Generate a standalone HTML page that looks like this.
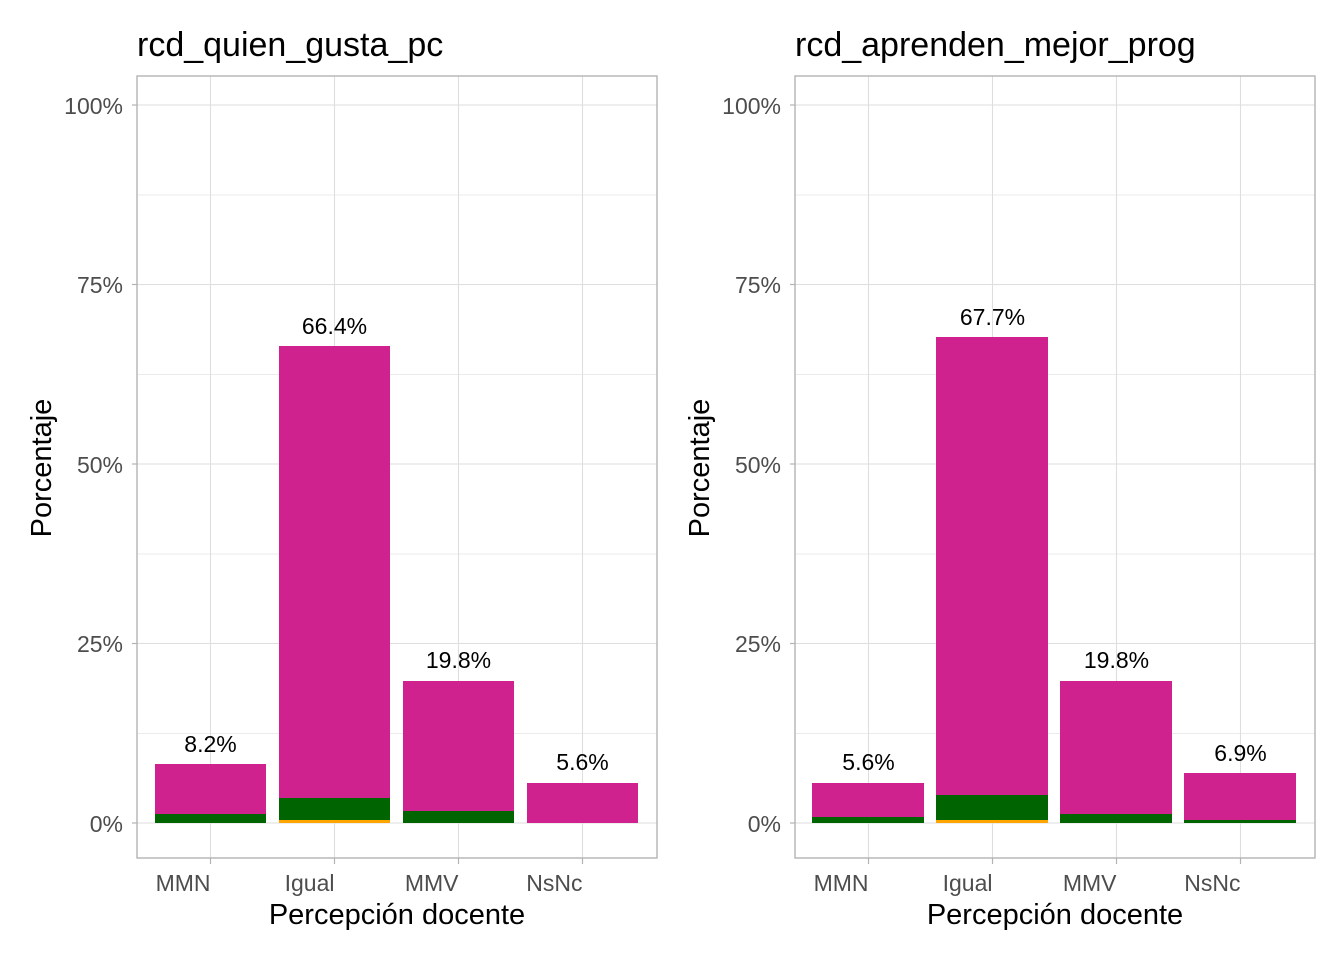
<!DOCTYPE html>
<html><head><meta charset="utf-8"><style>html,body{margin:0;padding:0;background:#fff}svg{display:block}</style></head>
<body>
<svg width="1344" height="960" xmlns="http://www.w3.org/2000/svg" font-family="Liberation Sans, Arial, sans-serif">
<rect width="1344" height="960" fill="#fff"/>
<defs>
<g id="grid">
  <g stroke="#ebebeb" stroke-width="1">
    <line x1="0" x2="520" y1="733.5" y2="733.5"/><line x1="0" x2="520" y1="554" y2="554"/>
    <line x1="0" x2="520" y1="374.5" y2="374.5"/><line x1="0" x2="520" y1="195" y2="195"/>
  </g>
  <g stroke="#dedede" stroke-width="1.1">
    <line x1="0" x2="520" y1="823" y2="823"/><line x1="0" x2="520" y1="643.5" y2="643.5"/>
    <line x1="0" x2="520" y1="464" y2="464"/><line x1="0" x2="520" y1="284.5" y2="284.5"/>
    <line x1="0" x2="520" y1="105" y2="105"/>
    <line x1="73.5" x2="73.5" y1="76" y2="858"/><line x1="197.5" x2="197.5" y1="76" y2="858"/>
    <line x1="321.5" x2="321.5" y1="76" y2="858"/><line x1="445.5" x2="445.5" y1="76" y2="858"/>
  </g>
</g>
<g id="axes">
  <rect x="0" y="76" width="520" height="782" fill="none" stroke="#b3b3b3" stroke-width="1.4"/>
  <g stroke="#b3b3b3" stroke-width="1.2">
    <line x1="-5" x2="0" y1="823" y2="823"/><line x1="-5" x2="0" y1="643.5" y2="643.5"/>
    <line x1="-5" x2="0" y1="464" y2="464"/><line x1="-5" x2="0" y1="284.5" y2="284.5"/>
    <line x1="-5" x2="0" y1="105" y2="105"/>
    <line x1="73.5" x2="73.5" y1="858" y2="864"/><line x1="197.5" x2="197.5" y1="858" y2="864"/>
    <line x1="321.5" x2="321.5" y1="858" y2="864"/><line x1="445.5" x2="445.5" y1="858" y2="864"/>
  </g>
  <g fill="#4d4d4d" font-size="23" text-anchor="end">
    <text x="-14" y="832">0%</text><text x="-14" y="652">25%</text>
    <text x="-14" y="473">50%</text><text x="-14" y="293">75%</text><text x="-14" y="114">100%</text>
  </g>
  <g fill="#4d4d4d" font-size="23" text-anchor="end">
    <text x="73.5" y="891">MMN</text><text x="197.5" y="891">Igual</text>
    <text x="321.5" y="891">MMV</text><text x="445.5" y="891">NsNc</text>
  </g>
  <text x="260" y="924" font-size="29" text-anchor="middle" fill="#000">Percepción docente</text>
  <text transform="translate(-86,468) rotate(-90)" font-size="29" text-anchor="middle" fill="#000">Porcentaje</text>
</g>
</defs>

<!-- Left panel -->
<g transform="translate(137,0)">
  <use href="#grid"/>
  <rect x="18" y="764" width="111" height="59" fill="#d0228f"/>
  <rect x="18" y="814" width="111" height="9" fill="#006400"/>
  <rect x="142" y="346" width="111" height="477" fill="#d0228f"/>
  <rect x="142" y="798" width="111" height="25" fill="#006400"/>
  <rect x="142" y="820" width="111" height="3" fill="#ffa500"/>
  <rect x="266" y="681" width="111" height="142" fill="#d0228f"/>
  <rect x="266" y="811" width="111" height="12" fill="#006400"/>
  <rect x="390" y="783" width="111" height="40" fill="#d0228f"/>
  <g font-size="23" text-anchor="middle" fill="#000">
    <text x="73.5" y="752">8.2%</text><text x="197.5" y="334">66.4%</text>
    <text x="321.5" y="668">19.8%</text><text x="445.5" y="770">5.6%</text>
  </g>
  <use href="#axes"/>
  <text x="0" y="56" font-size="34" fill="#000">rcd_quien_gusta_pc</text>
</g>

<!-- Right panel -->
<g transform="translate(795,0)">
  <use href="#grid"/>
  <rect x="17" y="783" width="112" height="40" fill="#d0228f"/>
  <rect x="17" y="817" width="112" height="6" fill="#006400"/>
  <rect x="141" y="337" width="112" height="486" fill="#d0228f"/>
  <rect x="141" y="795" width="112" height="28" fill="#006400"/>
  <rect x="141" y="820" width="112" height="3" fill="#ffa500"/>
  <rect x="265" y="681" width="112" height="142" fill="#d0228f"/>
  <rect x="265" y="814" width="112" height="9" fill="#006400"/>
  <rect x="389" y="773" width="112" height="50" fill="#d0228f"/>
  <rect x="389" y="820" width="112" height="3" fill="#006400"/>
  <g font-size="23" text-anchor="middle" fill="#000">
    <text x="73.5" y="770">5.6%</text><text x="197.5" y="325">67.7%</text>
    <text x="321.5" y="668">19.8%</text><text x="445.5" y="761">6.9%</text>
  </g>
  <use href="#axes"/>
  <text x="0" y="56" font-size="34" fill="#000">rcd_aprenden_mejor_prog</text>
</g>
</svg>
</body></html>
